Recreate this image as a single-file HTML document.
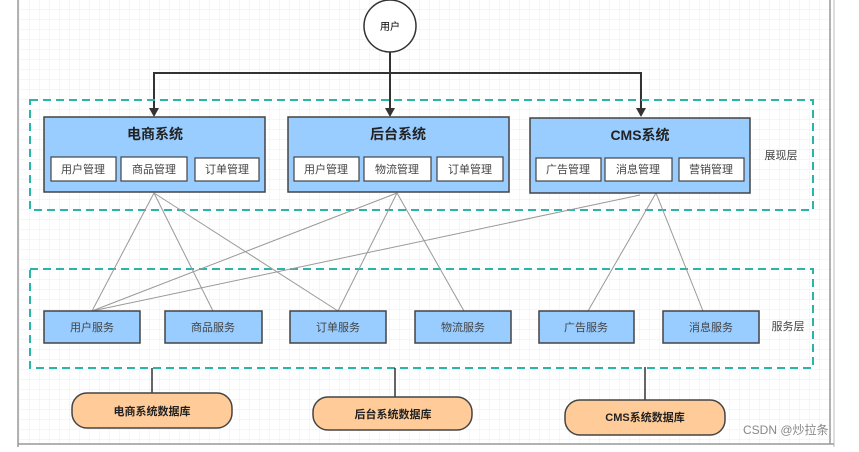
<!DOCTYPE html>
<html><head><meta charset="utf-8"><style>
body{margin:0;width:859px;height:447px;overflow:hidden;background:#fff;font-family:"Liberation Sans","Noto Sans CJK SC",sans-serif;}
</style></head><body>
<svg width="859" height="447" xmlns="http://www.w3.org/2000/svg" font-family="Liberation Sans, Noto Sans CJK SC, sans-serif">
<defs>
<pattern id="g" width="10" height="10" patternUnits="userSpaceOnUse"><path d="M10 0V10H0" fill="none" stroke="#ececec" stroke-width="1"/></pattern>
<marker id="a" markerWidth="8" markerHeight="8" refX="4" refY="7" orient="auto"><path d="M0,0 L8,0 L4,8z" fill="#333" transform="rotate(0)"/></marker>
</defs>
<rect x="18" y="0" width="814" height="444" fill="url(#g)"/>
<line x1="18" y1="0" x2="18" y2="447" stroke="#999" stroke-width="1.5"/>
<line x1="830" y1="0" x2="830" y2="444" stroke="#999" stroke-width="1.5"/>
<line x1="834" y1="0" x2="834" y2="447" stroke="#bbb" stroke-width="1"/>
<line x1="18" y1="444" x2="834" y2="444" stroke="#999" stroke-width="1.5"/>
<circle cx="390" cy="26" r="26" fill="#fff" stroke="#333" stroke-width="1.5"/>
<text x="390" y="30" font-size="10" text-anchor="middle">用户</text>
<g stroke="#333" stroke-width="2" fill="none">
<line x1="390" y1="52" x2="390" y2="110"/>
<polyline points="154,110 154,73 641,73 641,110"/>
</g>
<g fill="#333"><path d="M149,108h10l-5,9z"/><path d="M385,108h10l-5,9z"/><path d="M636,108h10l-5,9z"/></g>
<rect x="30" y="100" width="783" height="110" fill="none" stroke="#2bb5a8" stroke-width="2" stroke-dasharray="8,5"/>
<rect x="30" y="269" width="783" height="99" fill="none" stroke="#2bb5a8" stroke-width="2" stroke-dasharray="8,5"/>
<g stroke="#999" stroke-width="1">
<line x1="154" y1="193" x2="92" y2="311"/><line x1="154" y1="193" x2="213" y2="311"/><line x1="154" y1="193" x2="338" y2="311"/>
<line x1="397" y1="193" x2="92" y2="311"/><line x1="397" y1="193" x2="338" y2="311"/><line x1="397" y1="193" x2="464" y2="311"/>
<line x1="640" y1="195" x2="92" y2="311"/><line x1="656" y1="193" x2="588" y2="311"/><line x1="656" y1="193" x2="703" y2="311"/>
</g>
<g stroke="#444" stroke-width="1.5" fill="#99ccff">
<rect x="44" y="117" width="221" height="75"/><rect x="288" y="117" width="221" height="75"/><rect x="530" y="118" width="220" height="75"/>
</g>
<g font-size="14" font-weight="bold" text-anchor="middle" fill="#222">
<text x="155" y="139">电商系统</text><text x="398" y="139">后台系统</text><text x="640" y="140">CMS系统</text>
</g>
<g stroke="#444" stroke-width="1.2" fill="#fff">
<rect x="51" y="157" width="65" height="24"/><rect x="121" y="157" width="66" height="24"/><rect x="195" y="158" width="64" height="23"/>
<rect x="294" y="157" width="65" height="24"/><rect x="364" y="157" width="67" height="24"/><rect x="437" y="157" width="66" height="24"/>
<rect x="536" y="158" width="65" height="23"/><rect x="605" y="158" width="67" height="23"/><rect x="679" y="158" width="65" height="23"/>
</g>
<g font-size="11" text-anchor="middle" fill="#444">
<text x="83" y="173">用户管理</text><text x="154" y="173">商品管理</text><text x="227" y="173">订单管理</text>
<text x="326" y="173">用户管理</text><text x="397" y="173">物流管理</text><text x="470" y="173">订单管理</text>
<text x="568" y="173">广告管理</text><text x="638" y="173">消息管理</text><text x="711" y="173">营销管理</text>
<text x="781" y="159">展现层</text><text x="788" y="330">服务层</text>
</g>
<g stroke="#444" stroke-width="1.5" fill="#99ccff">
<rect x="44" y="311" width="96" height="32"/><rect x="165" y="311" width="97" height="32"/><rect x="290" y="311" width="96" height="32"/>
<rect x="415" y="311" width="96" height="32"/><rect x="539" y="311" width="95" height="32"/><rect x="663" y="311" width="96" height="32"/>
</g>
<g font-size="11" text-anchor="middle" fill="#444">
<text x="92" y="331">用户服务</text><text x="213" y="331">商品服务</text><text x="338" y="331">订单服务</text>
<text x="463" y="331">物流服务</text><text x="586" y="331">广告服务</text><text x="711" y="331">消息服务</text>
</g>
<g stroke="#333" stroke-width="1.5">
<line x1="152" y1="368" x2="152" y2="393"/><line x1="395" y1="368" x2="395" y2="397"/><line x1="645" y1="367" x2="645" y2="400"/>
</g>
<g stroke="#444" stroke-width="1.5" fill="#ffcc99">
<rect x="72" y="393" width="160" height="35" rx="15"/><rect x="313" y="397" width="159" height="33" rx="15"/><rect x="565" y="400" width="160" height="35" rx="15"/>
</g>
<g font-size="11" font-weight="bold" text-anchor="middle" fill="#222">
<text x="152" y="415">电商系统数据库</text><text x="393" y="418">后台系统数据库</text><text x="645" y="421">CMS系统数据库</text>
</g>
<text x="743" y="434" font-size="12" fill="#888">CSDN @炒拉条</text>
</svg>
</body></html>
